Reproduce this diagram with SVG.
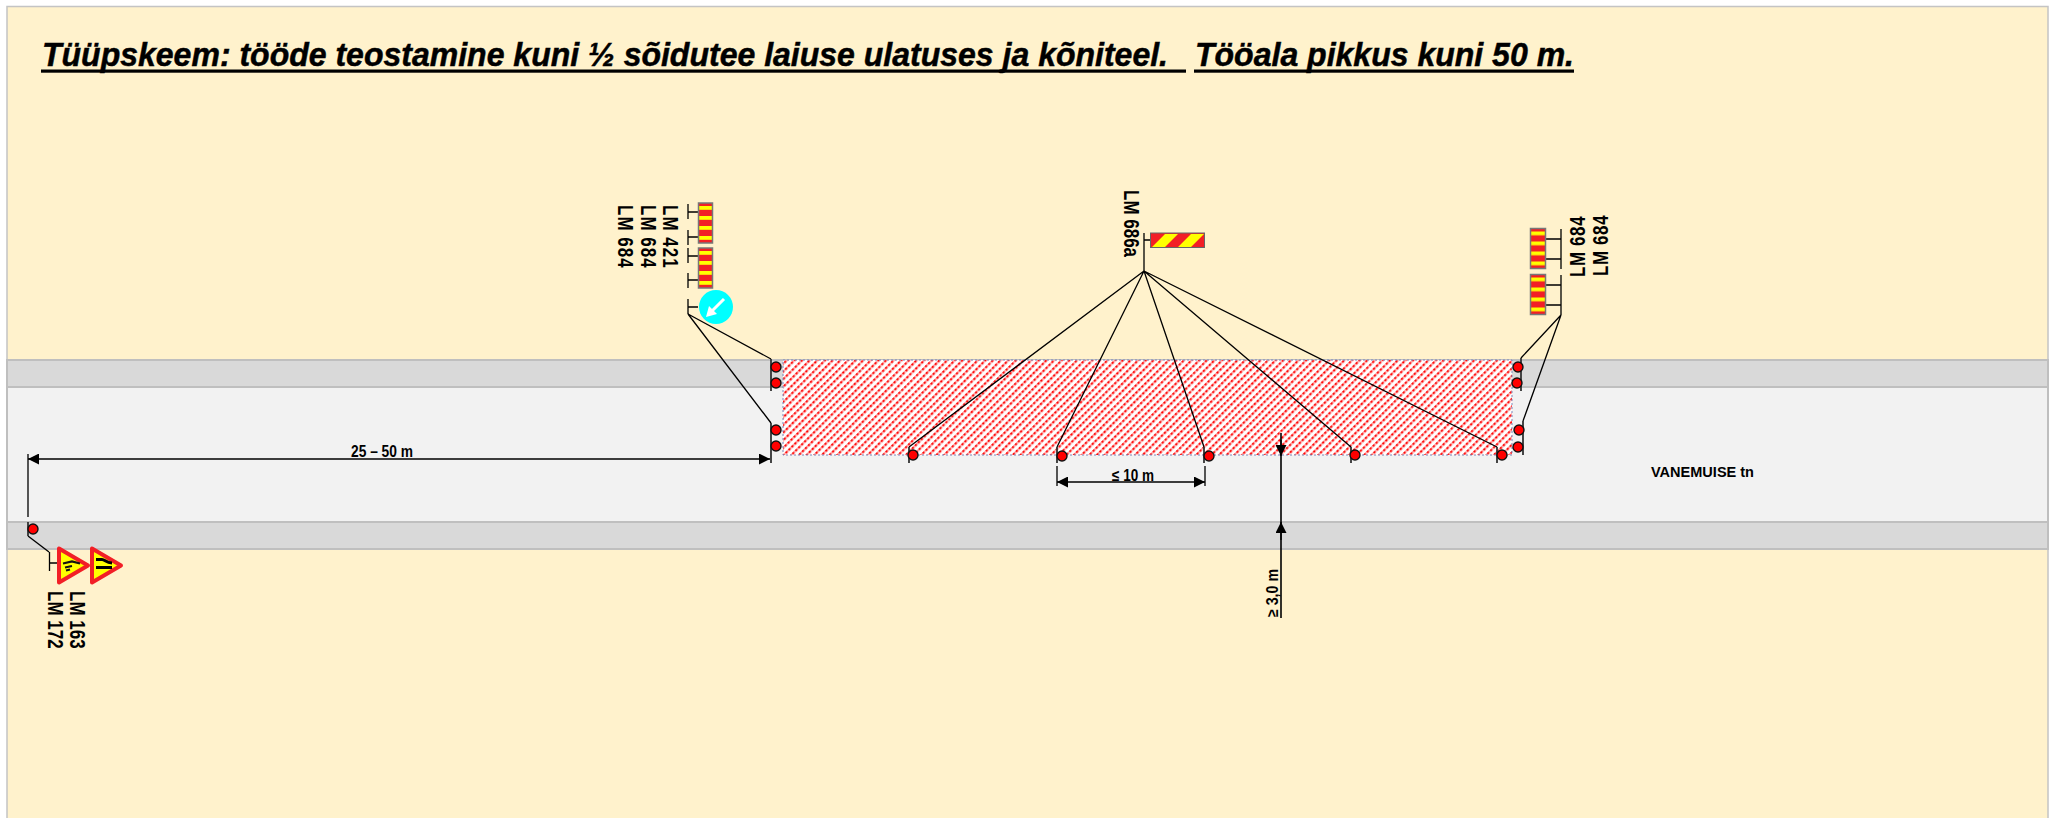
<svg xmlns="http://www.w3.org/2000/svg" width="2051" height="818" viewBox="0 0 2051 818">
<style>
.ln{stroke:#000;stroke-width:1.300;fill:none}
.tick{stroke:#333;stroke-width:1.800;fill:none}
.lamp{fill:#f00;stroke:#111;stroke-width:1.400}
.t{font-family:"Liberation Sans",Arial,sans-serif;font-weight:bold;fill:#000}
.lm{font-size:17px}
.dim{font-size:16px}
.board{stroke:#777;stroke-width:1.500}
.tri{fill:#ff0;stroke:#f21f26;stroke-width:4;stroke-linejoin:round}
.ttl{font-size:33px;font-style:italic;stroke:#000;stroke-width:0.500}
</style>
<defs>
<pattern id="hatch" width="4.200" height="5.400" patternUnits="userSpaceOnUse" patternTransform="rotate(-45 783 360)">
<rect width="4.200" height="5.400" fill="#fff"/><rect width="4.200" height="2.200" fill="#ffa6a6"/><rect x="1" y="0.100" width="2" height="2" fill="#f00"/>
</pattern>
<pattern id="bars" width="1" height="0.250">
<rect width="20" height="10" fill="#f21f26"/><rect width="20" height="3.800" y="3" fill="#ff0"/>
</pattern>
<marker id="ah" viewBox="0 0 10 10" refX="10" refY="5" markerWidth="11" markerHeight="11" markerUnits="userSpaceOnUse" orient="auto-start-reverse"><path d="M0 0L10 5L0 10Z" fill="#000"/></marker>
</defs>
<rect id="bg" x="7" y="6.500" width="2041" height="830" fill="#fff2cc" stroke="#c4c4c4" stroke-width="1.500"/>
<g id="road">
<rect x="7" y="360" width="2041" height="189" fill="#d9d9d9" stroke="#bfbfbf" stroke-width="2"/>
<rect x="7" y="387" width="2041" height="135" fill="#f2f2f2" stroke="#bfbfbf" stroke-width="2"/>
</g>
<rect id="work-area" x="783" y="360" width="729" height="95" fill="url(#hatch)" stroke="#7a86b8" stroke-width="1" stroke-dasharray="2 2"/>
<g id="title">
<text class="t ttl" x="42" y="66" textLength="1126" lengthAdjust="spacingAndGlyphs">Tüüpskeem: tööde teostamine kuni ½ sõidutee laiuse ulatuses ja kõniteel.</text>
<text class="t ttl" x="1195" y="66" textLength="379" lengthAdjust="spacingAndGlyphs">Tööala pikkus kuni 50 m.</text>
<rect x="41" y="69.500" width="1145" height="3.200"/>
<rect x="1194" y="69.500" width="380" height="3.200"/>
</g>
<g id="connectors">
<path class="ln" d="M688 314L771 359M688 314L771 423M1561 315L1521 358M1561 315L1523 421"/>
<path class="ln" d="M1144 271L909 447M1144 271L1057 447M1144 271L1204 447M1144 271L1351 447M1144 271L1497 447"/>
<path class="ln" d="M28 536L49 552"/>
<path class="ln" d="M688 204V219M688 230V245M688 248V263M688 273V288M688 299V314M688 212H698M688 237H698M688 256H698M688 280H698M688 307H698"/>
<path class="ln" d="M1561 229V269M1561 275V315M1546 239H1561M1546 259H1561M1546 285H1561M1546 305H1561"/>
<path class="ln" d="M1144 233V271M1144 240H1150"/>
<path class="ln" d="M49.500 552V571M49.500 563H58"/>
<path class="tick" d="M771 359V391M771 423V463M1521 358V391M1523 421V455M909 447V463M1057 447V463M1204 447V463M1351 447V463M1497 447V463M28 522V536"/>
<path class="ln" d="M28 454V517M1057 466V486M1205 466V486"/>
<path class="ln" marker-start="url(#ah)" marker-end="url(#ah)" d="M28 459H770"/>
<path class="ln" marker-start="url(#ah)" marker-end="url(#ah)" d="M1057 482H1205"/>
<path class="ln" style="stroke-width:1.600" d="M1281 433V618"/>
<path class="ln" marker-end="url(#ah)" d="M1281 440V456"/>
<path class="ln" marker-end="url(#ah)" d="M1281 540V522"/>
</g>
<g id="lamps">
<circle class="lamp" cx="776" cy="367" r="5"/><circle class="lamp" cx="776" cy="383" r="5"/>
<circle class="lamp" cx="776" cy="430" r="5"/><circle class="lamp" cx="776" cy="446" r="5"/>
<circle class="lamp" cx="1518" cy="367" r="5"/><circle class="lamp" cx="1517" cy="383" r="5"/>
<circle class="lamp" cx="1519" cy="430" r="5"/><circle class="lamp" cx="1518" cy="447" r="5"/>
<circle class="lamp" cx="913" cy="455" r="5"/><circle class="lamp" cx="1062" cy="456" r="5"/>
<circle class="lamp" cx="1209" cy="456" r="5"/><circle class="lamp" cx="1355" cy="455" r="5"/>
<circle class="lamp" cx="1502" cy="455" r="5"/><circle class="lamp" cx="33" cy="529" r="5"/>
</g>
<g id="signs-left">
<rect class="board" x="698.500" y="203" width="14" height="40" fill="url(#bars)"/>
<rect class="board" x="698.500" y="248" width="14" height="40" fill="url(#bars)"/>
<circle cx="716" cy="307" r="17" fill="#0ff"/>
<path d="M724 299L710 313" stroke="#fff" stroke-width="3"/><path d="M706 317L709 306L717 314Z" fill="#fff"/>
<text class="t lm" letter-spacing="1" transform="translate(663 205) rotate(90) scale(1 1.320)">LM 421</text>
<text class="t lm" letter-spacing="1" transform="translate(641 205) rotate(90) scale(1 1.320)">LM 684</text>
<text class="t lm" letter-spacing="1" transform="translate(618 205) rotate(90) scale(1 1.320)">LM 684</text>
</g>
<g id="sign-686a">
<rect x="1150.500" y="233" width="54" height="14.500" fill="#f21f26" stroke="#666"/>
<path d="M1152 247L1165 234H1178L1165 247ZM1178 247L1191 234H1204L1191 247Z" fill="#ff0"/>
<text class="t lm" transform="translate(1124 190) rotate(90) scale(1 1.320)">LM 686a</text>
</g>
<g id="signs-right">
<rect class="board" x="1530.500" y="228.500" width="15" height="40" fill="url(#bars)"/>
<rect class="board" x="1530.500" y="274.500" width="15" height="40" fill="url(#bars)"/>
<text class="t lm" letter-spacing="0.600" transform="translate(1585 277) rotate(-90) scale(1 1.320)">LM 684</text>
<text class="t lm" letter-spacing="0.600" transform="translate(1608 276) rotate(-90) scale(1 1.320)">LM 684</text>
</g>
<g id="signs-bottom">
<path class="tri" d="M59 548.500V582.500L88 565.500Z"/>
<path class="tri" d="M92 548.500V582.500L121 565.500Z"/>
<path d="M63 563.500L72 561.500L80 563.500M65 567.500L72 566M66 570.500L70 569.500" stroke="#111" stroke-width="2.200" fill="none"/>
<path d="M96 559.500H102C105 559.500 106 563 112 563M96 567.500H112" stroke="#000" stroke-width="3" fill="none"/>
<text class="t lm" transform="translate(70 591) rotate(90) scale(1 1.320)">LM 163</text>
<text class="t lm" transform="translate(48 591) rotate(90) scale(1 1.320)">LM 172</text>
</g>
<g id="labels">
<text class="t dim" x="351" y="457" textLength="62" lengthAdjust="spacingAndGlyphs">25 – 50 m</text>
<text class="t dim" x="1112" y="481" textLength="42" lengthAdjust="spacingAndGlyphs">≤ 10 m</text>
<text class="t dim" transform="translate(1278 617) rotate(-90)" textLength="48" lengthAdjust="spacingAndGlyphs">≥ 3,0 m</text>
<text class="t" font-size="14" x="1651" y="477" textLength="103" lengthAdjust="spacingAndGlyphs">VANEMUISE tn</text>
</g>
</svg>
